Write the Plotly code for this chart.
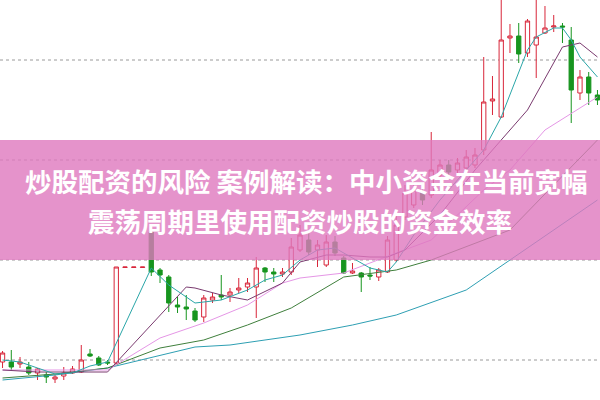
import plotly.graph_objects as go

idx = list(range(69))
opens = [38, 38, 36, 33, 27, 25, 21, 24, 27, 28, 46, 42, 38, 37, 132.5, 132.5, 132.5,
         168, 130, 123, 95, 93, 89, 83, 100, 105, 105, 110, 113, 113, 132, 128, 126, 128,
         150, 160, 150, 135, 158, 142, 127, 127, 125, 123, 128, 140, 183, 195, 208, 205,
         225, 235, 230, 232, 235, 250, 299, 283, 362, 364, 347, 355, 367, 373, 374, 360,
         307, 323, 305]
closes = [47, 33, 38, 27, 31, 23, 23, 27, 31, 40, 44, 35, 37, 133, 133, 133, 133,
          128, 125, 97, 93, 91, 80, 102, 103, 103, 108, 112, 117, 132, 128, 126, 128, 153,
          165, 148, 155, 158, 147, 127, 129, 123, 124, 130, 160, 175, 207, 210, 200, 230,
          235, 228, 237, 243, 245, 298, 301, 360, 364, 346, 379, 363, 372, 374, 373, 310,
          323, 307, 300]
highs = [49, 50, 43, 38, 32, 28, 25, 33, 34, 55, 51, 44, 40, 133, 133, 133, 133,
         172, 132, 125, 103, 105, 92, 105, 107, 125, 112, 122, 122, 143, 133, 132, 132, 162,
         175, 170, 160, 165, 164, 144, 137, 128, 133, 132, 164, 185, 215, 220, 215, 268,
         240, 240, 242, 250, 252, 343, 324, 400, 376, 377, 381, 400, 394, 385, 377, 373,
         330, 328, 310]
lows = [32, 30, 32, 25, 20, 17, 17, 20, 26, 27, 43, 34, 35, 36, 132.5, 132.5, 132.5,
        124, 117, 88, 87, 80, 78, 78, 97, 100, 98, 107, 108, 82, 118, 118, 123, 125,
        148, 145, 133, 133, 144, 126, 126, 108, 120, 119, 127, 138, 180, 192, 195, 202,
        220, 224, 227, 230, 232, 245, 285, 282, 347, 337, 343, 322, 366, 368, 357, 277,
        300, 295, 295]

ma5_x = [0, 2, 4, 6, 8, 10, 12, 17, 19, 22, 25, 28, 30, 32, 34, 36, 38, 40, 42, 44,
         45, 47, 50, 53, 55, 57, 60, 61, 63, 64, 65, 66, 68]
ma5_y = [40, 38, 32, 26, 27, 34, 38, 132, 115, 97, 100, 110, 120, 125, 140, 150, 152,
         142, 132, 128, 138, 165, 200, 230, 250, 283, 350, 363, 372, 372, 360, 343, 323]

ma10_x = [0, 4, 8, 12, 21, 22, 25, 28, 32, 34, 37, 39, 42, 44, 46, 50, 54, 57,
          60, 64, 66, 68]
ma10_y = [30, 28, 28, 28, 113, 112, 105, 100, 117, 138, 145, 145, 143, 143, 150,
          185, 230, 260, 290, 353, 357, 343]

ma20_x = [0, 6, 12, 18, 23, 28, 32, 34, 39, 45, 49, 55, 58, 62, 68]
ma20_y = [30, 30, 30, 62, 77, 95, 117, 122, 127, 147, 160, 210, 230, 270, 303]

ma30_x = [0, 6, 12, 18, 23, 28, 33, 39, 45, 49, 58, 68]
ma30_y = [22, 26, 32, 52, 60, 75, 92, 123, 130, 140, 170, 260]

ma60_x = [0, 6, 12, 18, 22, 26, 34, 40, 45, 53, 58, 68]
ma60_y = [20, 25, 32, 45, 53, 55, 65, 75, 85, 110, 140, 200]

grid_levels = [340, 240, 140, 40]

title_line1 = "炒股配资的风险 案例解读：中小资金在当前宽幅"
title_line2 = "震荡周期里使用配资炒股的资金效率"

RED = "#d8263a"
GREEN = "#17951f"

fig = go.Figure()
fig.add_trace(go.Candlestick(
    x=idx, open=opens, high=highs, low=lows, close=closes,
    increasing=dict(line=dict(color=RED, width=1), fillcolor="white"),
    decreasing=dict(line=dict(color=GREEN, width=1), fillcolor=GREEN),
    whiskerwidth=0, showlegend=False, hoverinfo="skip"))

ma_specs = [
    (ma60_x, ma60_y, "#2e9fb3"),
    (ma30_x, ma30_y, "#3f7f3c"),
    (ma20_x, ma20_y, "#e596e6"),
    (ma10_x, ma10_y, "#7a3a6f"),
    (ma5_x, ma5_y, "#2aa6a8"),
]
for mx, my, col in ma_specs:
    fig.add_trace(go.Scatter(x=mx, y=my, mode="lines", line=dict(color=col, width=1),
                             showlegend=False, hoverinfo="skip"))

shapes = []
for g in grid_levels:
    shapes.append(dict(type="line", xref="paper", x0=0, x1=1, yref="y", y0=g, y1=g,
                       line=dict(color="#9a9a9a", width=1, dash="dot"), layer="below"))
shapes.append(dict(type="rect", xref="paper", x0=0, x1=1, yref="y", y0=140, y1=260,
                   fillcolor="rgb(222,120,190)", opacity=0.8, line=dict(width=0),
                   layer="above"))

fig.update_layout(
    width=600, height=400,
    margin=dict(l=0, r=0, t=0, b=0, pad=0, autoexpand=False),
    paper_bgcolor="white", plot_bgcolor="white",
    xaxis=dict(range=[-0.29, 68.29], visible=False, rangeslider=dict(visible=False),
               showgrid=False, zeroline=False),
    yaxis=dict(range=[0, 400], visible=False, showgrid=False, zeroline=False),
    shapes=shapes,
    annotations=[
        dict(text="<b>" + title_line1 + "</b>", xref="paper", yref="y", x=0.51, y=220,
             showarrow=False, font=dict(family="Noto Sans CJK SC", size=26.5, color="white")),
        dict(text="<b>" + title_line2 + "</b>", xref="paper", yref="y", x=0.5, y=180,
             showarrow=False, font=dict(family="Noto Sans CJK SC", size=26.5, color="white")),
    ],
)

fig.write_html("out.html", config={"displayModeBar": False},
               post_script="document.body.style.margin='0';document.body.style.overflow='hidden';")
